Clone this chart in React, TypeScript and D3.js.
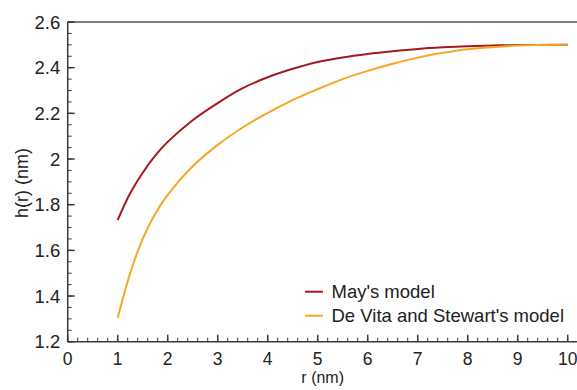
import React, { useEffect, useRef } from 'react'
import * as d3 from 'd3'

// r (nm) sample points
const rValues = [1, 1.25, 1.5, 1.75, 2, 2.5, 3, 3.5, 4, 4.5, 5, 5.5, 6, 6.5, 7, 7.5, 8, 9, 10]
const mayModel = [1.733, 1.85, 1.94, 2.015, 2.075, 2.17, 2.245, 2.31, 2.358, 2.395, 2.425, 2.445, 2.46, 2.472, 2.482, 2.489, 2.494, 2.499, 2.5]
const deVitaModel = [1.305, 1.5, 1.65, 1.76, 1.843, 1.968, 2.062, 2.138, 2.202, 2.258, 2.306, 2.35, 2.386, 2.417, 2.444, 2.465, 2.481, 2.497, 2.5]

const seriesNames = ["May's model", "De Vita and Stewart's model"]
const seriesColors = ['#a3191e', '#f6a623']

const xTicks = [0, 1, 2, 3, 4, 5, 6, 7, 8, 9, 10]
const yTicks = [1.2, 1.4, 1.6, 1.8, 2, 2.2, 2.4, 2.6]

const W = 577
const H = 390

const App = () => {
    const ref = useRef<SVGSVGElement>(null)

    useEffect(() => {
        const svg = d3.select(ref.current)
        svg.selectAll('*').remove()

        const left = 67.7, right = 567.7, top = 22, bottom = 341.7
        const x = d3.scaleLinear().domain([0, 10]).range([left, right])
        const y = d3.scaleLinear().domain([1.2, 2.6]).range([bottom, top])
        const axisColor = '#3a3a3a'
        const font = 'Liberation Sans, Arial, sans-serif'
        const fs = 18.5

        const label = (px: number, py: number, txt: string, anchor = 'start', size = fs) => {
            svg.append('text')
                .attr('x', px).attr('y', py)
                .attr('text-anchor', anchor)
                .style('font', `${size}px ${font}`).attr('fill', '#222')
                .text(txt)
        }

        // frame (right edge runs off the image)
        svg.append('line').attr('x1', left).attr('x2', W).attr('y1', top).attr('y2', top)
            .attr('stroke', '#555').attr('stroke-width', 1.5)
        svg.append('line').attr('x1', left).attr('x2', W).attr('y1', bottom).attr('y2', bottom)
            .attr('stroke', axisColor).attr('stroke-width', 1.5)
        svg.append('line').attr('x1', left).attr('x2', left).attr('y1', top).attr('y2', bottom)
            .attr('stroke', axisColor).attr('stroke-width', 1.5)

        // y ticks, pointing inward
        const yMinor = d3.range(1.2, 2.6001, 0.05)
        svg.append('g').selectAll('line').data(yMinor).join('line')
            .attr('x1', left).attr('x2', left + 4)
            .attr('y1', d => y(d)).attr('y2', d => y(d))
            .attr('stroke', axisColor).attr('stroke-width', 1)
        svg.append('g').selectAll('line').data(yTicks).join('line')
            .attr('x1', left).attr('x2', left + 7)
            .attr('y1', d => y(d)).attr('y2', d => y(d))
            .attr('stroke', axisColor).attr('stroke-width', 1.5)
        yTicks.forEach(t => label(left - 7.5, y(t) + 6.6, d3.format('~g')(t), 'end'))

        // x ticks
        const xMinor = d3.range(0, 10.001, 0.2)
        svg.append('g').selectAll('line').data(xMinor).join('line')
            .attr('x1', d => x(d)).attr('x2', d => x(d))
            .attr('y1', bottom).attr('y2', bottom - 4)
            .attr('stroke', axisColor).attr('stroke-width', 1)
        svg.append('g').selectAll('line').data(xTicks).join('line')
            .attr('x1', d => x(d)).attr('x2', d => x(d))
            .attr('y1', bottom).attr('y2', bottom - 7)
            .attr('stroke', axisColor).attr('stroke-width', 1.5)
        xTicks.forEach(t => label(x(t), bottom + 23, String(t), 'middle', 17.5))

        // axis titles
        label((left + right) / 2 + 5, 383, 'r (nm)', 'middle', 16)
        svg.append('text').attr('transform', 'translate(28,183) rotate(-90)')
            .attr('text-anchor', 'middle').style('font', `18px ${font}`).attr('fill', '#222')
            .text('h(r) (nm)')

        // curves
        const line = d3.line<[number, number]>()
            .x(d => x(d[0]))
            .y(d => y(d[1]))
            .curve(d3.curveCatmullRom.alpha(0.5))

        const series = [mayModel, deVitaModel]
        series.forEach((vals, i) => {
            svg.append('path')
                .datum(rValues.map((r, j) => [r, vals[j]] as [number, number]))
                .attr('fill', 'none')
                .attr('stroke', seriesColors[i])
                .attr('stroke-width', 2)
                .attr('d', line)
        })

        // legend
        const lx = 305, ly = 291.7
        seriesNames.forEach((name, i) => {
            svg.append('line').attr('x1', lx).attr('x2', lx + 18)
                .attr('y1', ly + i * 24).attr('y2', ly + i * 24)
                .attr('stroke', seriesColors[i]).attr('stroke-width', 2)
            label(lx + 26.5, ly + i * 24 + 6.6, name)
        })
    }, [])

    return (
        <svg ref={ref} width={W} height={H}
            style={{ position: 'absolute', left: 0, top: 0, background: '#fff' }} />
    )
}

export default App
